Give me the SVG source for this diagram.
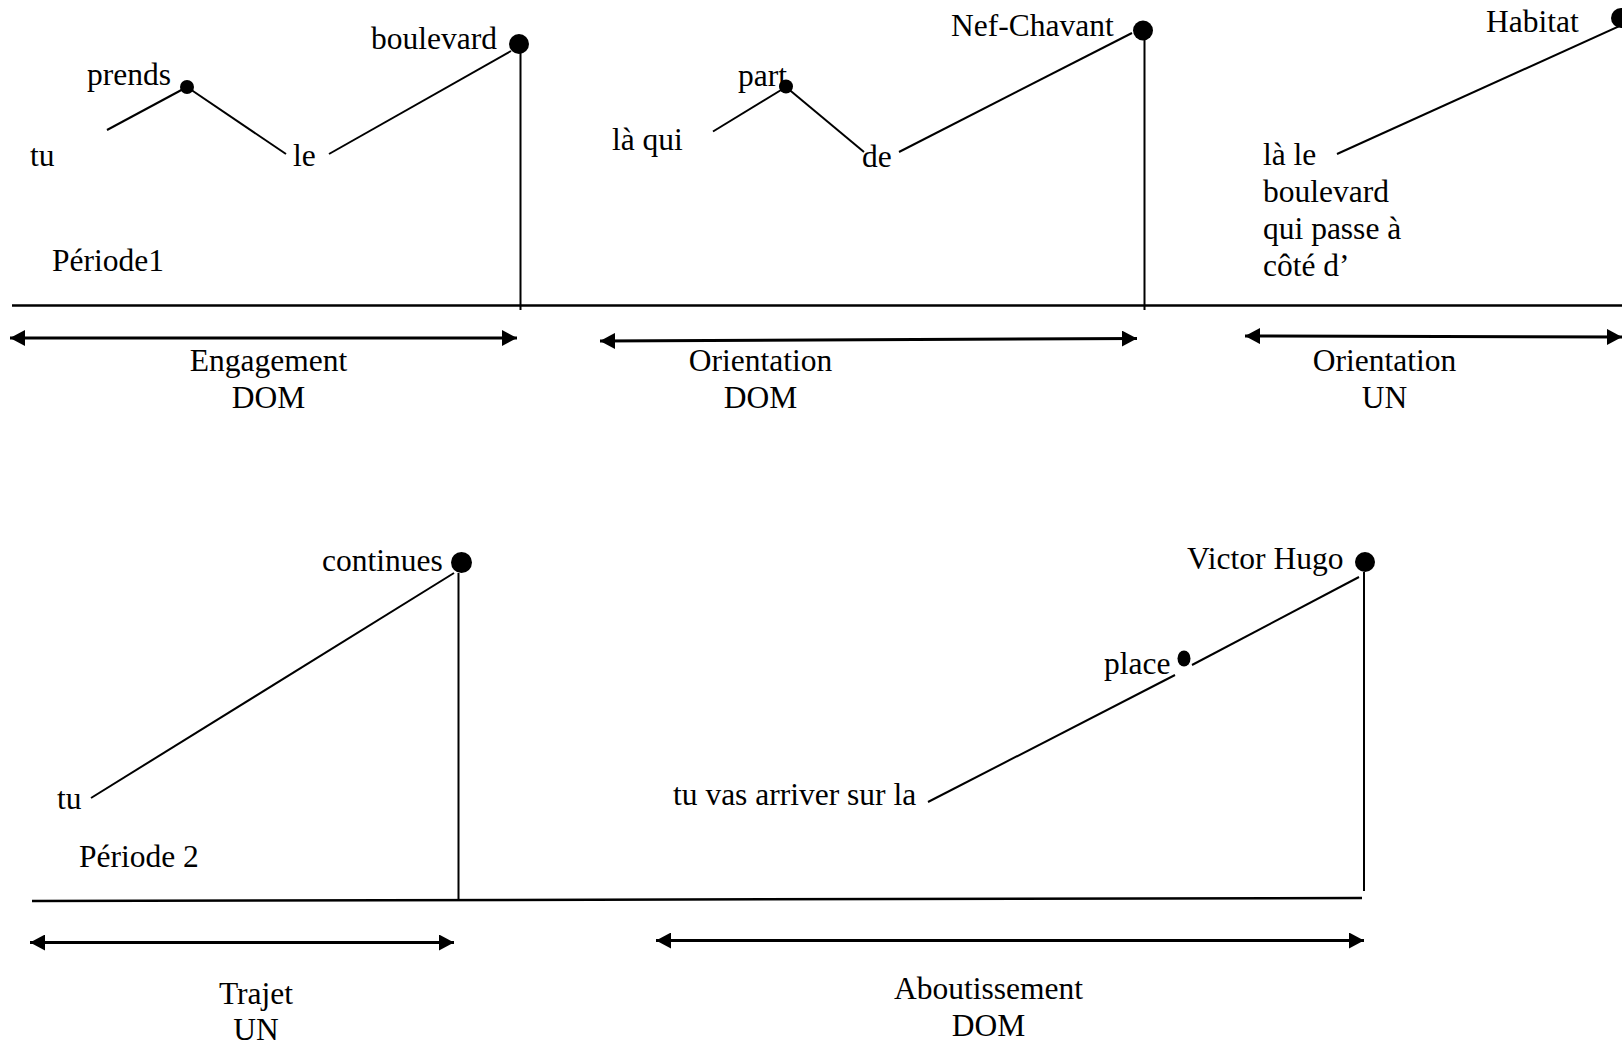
<svg xmlns="http://www.w3.org/2000/svg" width="1622" height="1044" viewBox="0 0 1622 1044">
<style>
text{font-family:"Liberation Serif","Times New Roman",serif;font-size:31.5px;fill:#000}
.c{text-anchor:middle}
.ln{stroke:#000;stroke-width:2;fill:none}
.ax{stroke:#000;stroke-width:2.5;fill:none}
.ar{stroke:#000;stroke-width:3;fill:none;marker-start:url(#ah);marker-end:url(#ah)}
.dot{fill:#000}
</style>
<defs>
<marker id="ah" viewBox="0 0 15 16" refX="15" refY="8" markerWidth="15" markerHeight="16" markerUnits="userSpaceOnUse" orient="auto-start-reverse">
<path d="M0,0 L15,8 L0,16 z" fill="#000"/>
</marker>
</defs>
<rect width="1622" height="1044" fill="#fff"/>

<g id="connectors">
<line class="ln" x1="107" y1="130" x2="187" y2="87"/>
<line class="ln" x1="187" y1="87" x2="286" y2="154"/>
<line class="ln" x1="329" y1="154" x2="511" y2="51"/>
<line class="ln" x1="520.5" y1="50" x2="520.5" y2="310"/>
<line class="ln" x1="713" y1="131.5" x2="786" y2="87"/>
<line class="ln" x1="786" y1="87" x2="864" y2="152"/>
<line class="ln" x1="899" y1="152" x2="1132" y2="33"/>
<line class="ln" x1="1144.5" y1="33" x2="1144.5" y2="310"/>
<line class="ln" x1="1337" y1="154" x2="1622" y2="25"/>
<line class="ax" x1="12" y1="305.5" x2="1622" y2="305.5"/>
<line class="ar" x1="10" y1="338" x2="517" y2="338"/>
<line class="ar" x1="600" y1="341" x2="1137" y2="338.5"/>
<line class="ar" x1="1245" y1="336" x2="1622" y2="337"/>
<line class="ln" x1="91" y1="798" x2="454" y2="573"/>
<line class="ln" x1="458.5" y1="573" x2="458.5" y2="900"/>
<line class="ln" x1="928" y1="802" x2="1175" y2="675"/>
<line class="ln" x1="1192" y1="665" x2="1359" y2="577"/>
<line class="ln" x1="1364" y1="572" x2="1364" y2="891"/>
<line class="ax" x1="32" y1="901" x2="1362" y2="898"/>
<line class="ar" x1="30" y1="942.5" x2="454" y2="942.5"/>
<line class="ar" x1="656" y1="940.5" x2="1364" y2="940.5"/>
</g>

<g id="n-tu1"><text x="30" y="165.5">tu</text></g>
<g id="n-prends"><text x="87" y="85">prends</text><circle class="dot" cx="187" cy="87" r="7"/></g>
<g id="n-le"><text x="293" y="166">le</text></g>
<g id="n-boulevard"><text x="371" y="48.5">boulevard</text><circle class="dot" cx="519" cy="44" r="10"/></g>
<g id="n-periode1"><text x="52" y="271">Période1</text></g>

<g id="n-laqui"><text x="612" y="150">là qui</text></g>
<g id="n-part"><text x="738" y="86">part</text><circle class="dot" cx="786" cy="86.5" r="7"/></g>
<g id="n-de"><text x="862" y="167">de</text></g>
<g id="n-nef"><text x="951" y="36">Nef-Chavant</text><circle class="dot" cx="1143" cy="30.5" r="10"/></g>

<g id="n-lale"><text x="1263" y="165">là le</text><text x="1263" y="202">boulevard</text><text x="1263" y="239">qui passe à</text><text x="1263" y="275.5">côté d’</text></g>
<g id="n-habitat"><text x="1486" y="31.5">Habitat</text><circle class="dot" cx="1621" cy="18" r="10"/></g>

<g id="n-engagement"><text class="c" x="268.5" y="371">Engagement</text><text class="c" x="268.5" y="408">DOM</text></g>
<g id="n-orient1"><text class="c" x="760.5" y="371">Orientation</text><text class="c" x="760.5" y="408">DOM</text></g>
<g id="n-orient2"><text class="c" x="1384.5" y="371">Orientation</text><text class="c" x="1384.5" y="408">UN</text></g>

<g id="n-tu2"><text x="57" y="808.5">tu</text></g>
<g id="n-periode2"><text x="79" y="867">Période 2</text></g>
<g id="n-continues"><text x="322" y="570.5">continues</text><circle class="dot" cx="461.5" cy="562.5" r="10.5"/></g>
<g id="n-tuvas"><text x="673" y="805">tu vas arriver sur la</text></g>
<g id="n-place"><text x="1104" y="673.5">place</text><ellipse class="dot" cx="1184" cy="658.5" rx="6.5" ry="8"/></g>
<g id="n-victor"><text x="1187" y="569">Victor Hugo</text><circle class="dot" cx="1365" cy="562" r="10"/></g>

<g id="n-trajet"><text class="c" x="256" y="1003.5">Trajet</text><text class="c" x="256" y="1040">UN</text></g>
<g id="n-aboutissement"><text class="c" x="988.5" y="999">Aboutissement</text><text class="c" x="988.5" y="1035.5">DOM</text></g>
</svg>
